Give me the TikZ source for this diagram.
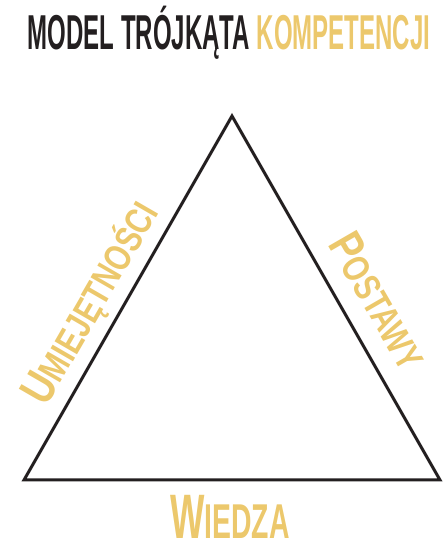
\documentclass[tikz,border=0pt]{standalone}
\usepackage{fontspec}
\usepackage{xcolor}
\newfontfamily\titlefont{Liberation Sans}[FakeStretch=0.49]
\newfontfamily\sidefont{Liberation Sans}[FakeStretch=0.78]
\newfontfamily\basefont{Liberation Sans}[FakeStretch=0.58]
\definecolor{gold}{HTML}{ECC86C}
\definecolor{ink}{HTML}{231F20}
% first letter large, the rest as small capitals
\newcommand{\capword}[4]{{\fontsize{#1}{#1}\selectfont #3}{\fontsize{#2}{#2}\selectfont #4}}
\tikzset{
  sidelabel/.style={text=gold, inner sep=0pt, anchor=base},
  edge/.style={draw=ink, line width=3pt, line join=miter}
}

\begin{document}
\begin{tikzpicture}[x=1pt,y=1pt]
	\useasboundingbox (0,0) rectangle (444,538);
	\coordinate (apex) at (232,422);
	\coordinate (left) at (24,58);
	\coordinate (right) at (440,58);
	\draw[edge] (apex) -- (left) -- (right) -- cycle;
	\node[inner sep=0pt, anchor=base] (title) at (229,488) {\titlefont\bfseries\fontsize{49pt}{49pt}\selectfont\color{ink}MODEL TRÓJKĄTA \color{gold}KOMPETENCJI};
	\node[sidelabel, rotate=60] (skills) at (103,228) {\sidefont\bfseries\capword{47.5pt}{37.7pt}{U}{MIEJĘTNOŚCI}};
	\node[sidelabel, rotate=-60] (attitudes) at (365,229) {\sidefont\bfseries\capword{47.5pt}{37.7pt}{P}{OSTAWY}};
	\node[sidelabel] (knowledge) at (230,-1) {\basefont\bfseries\capword{62.8pt}{48.9pt}{W}{IEDZA}};
\end{tikzpicture}
\end{document}
